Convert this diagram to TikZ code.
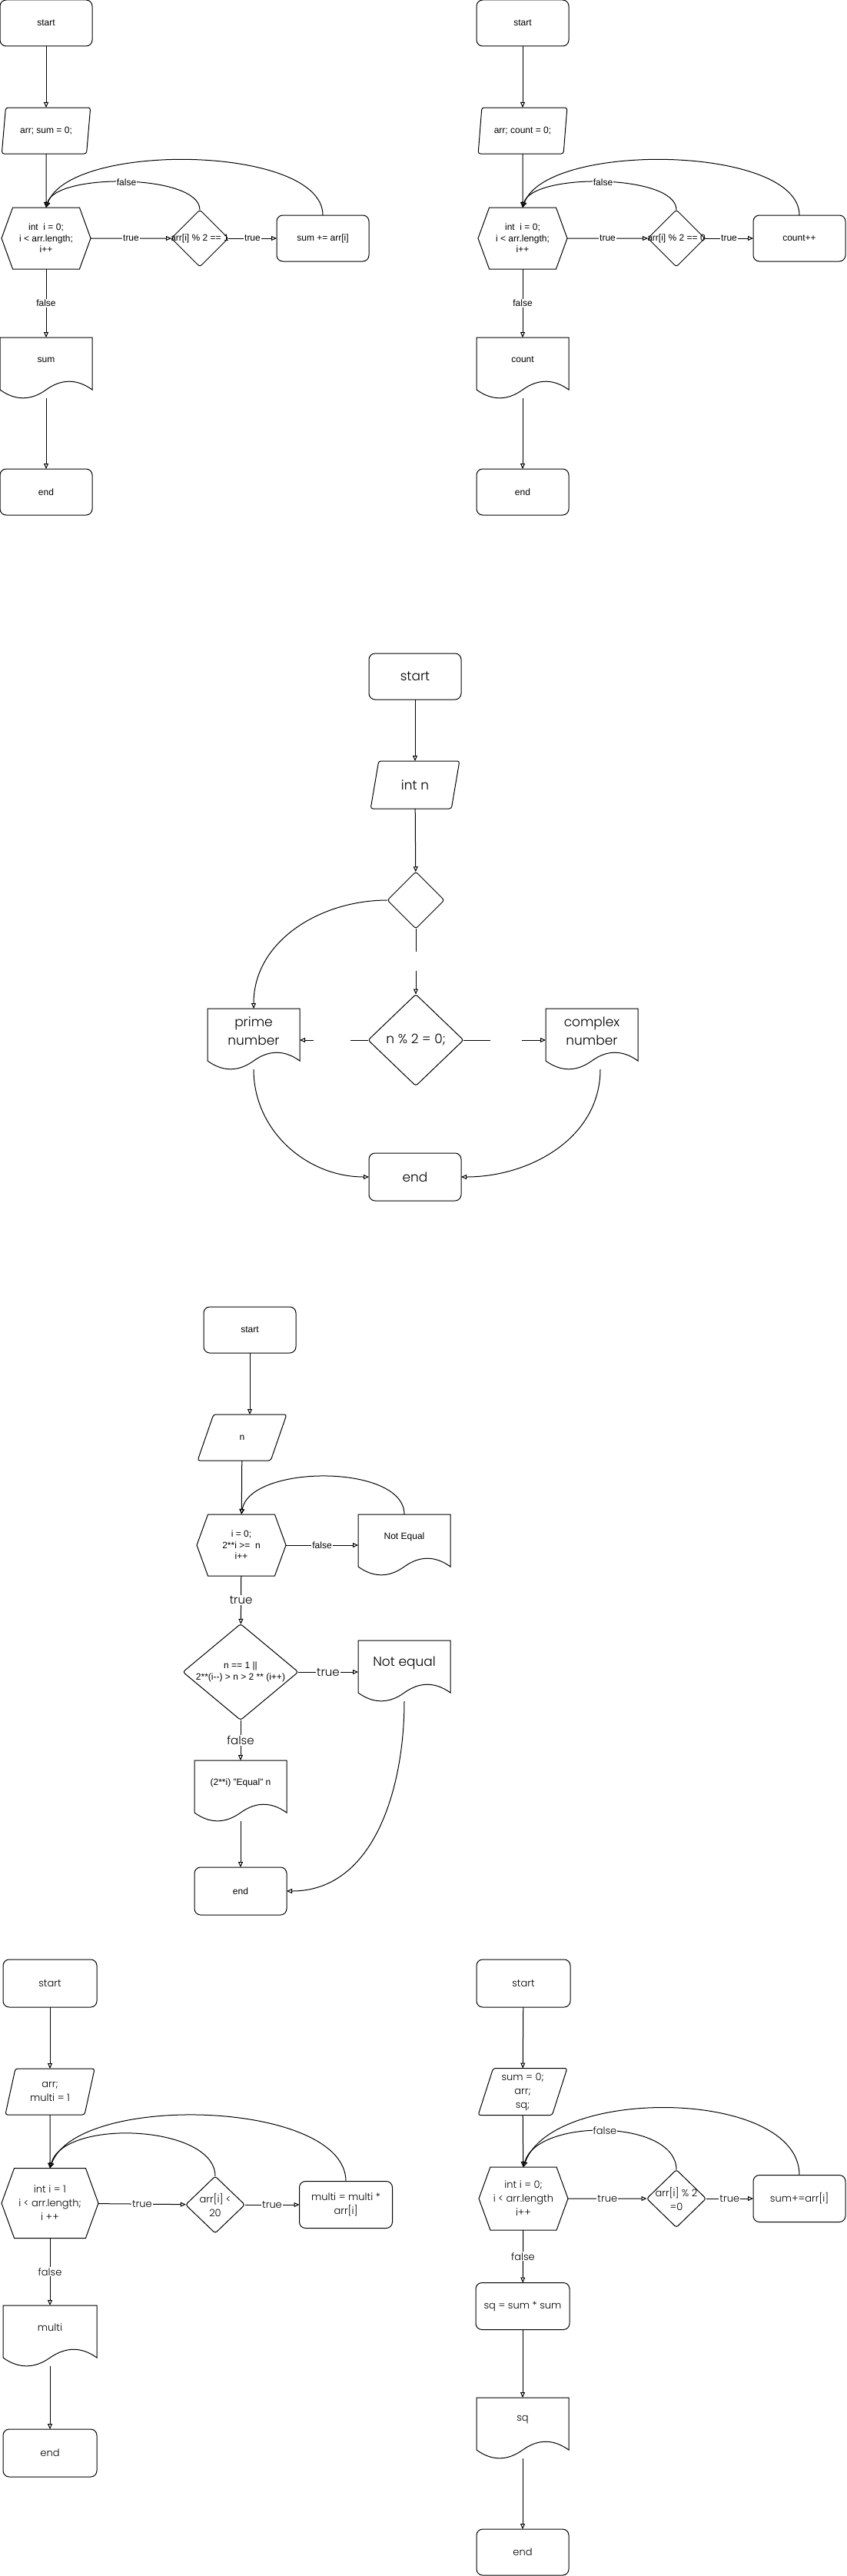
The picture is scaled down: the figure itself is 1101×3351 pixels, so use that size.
\documentclass[tikz,border=0pt]{standalone}
\usepackage{fontspec}
\setmainfont{Liberation Sans}
\newfontfamily\handfont{Poppins Light}
\usetikzlibrary{shapes.geometric,shapes.symbols,arrows.meta}

\newcommand{\docshape}[1]{%
  \draw (#1.north west) -- (#1.north east) -- ([yshift=-68pt]#1.north east)
    .. controls ([xshift=-20pt,yshift=-53.6pt]#1.north east) and ([xshift=-40pt,yshift=-53.6pt]#1.north east) .. ([yshift=-68pt]#1.north)
    .. controls ([xshift=-20pt,yshift=-82.4pt]#1.north) and ([xshift=20pt,yshift=-82.4pt]#1.north west) .. ([yshift=-68pt]#1.north west) -- cycle;
  \coordinate (#1 bot) at ([yshift=-79pt]#1.north);}

\begin{document}
\begin{tikzpicture}[x=1pt,y=1pt,line width=1pt,font=\fontsize{12}{14.5}\selectfont]
        \tikzstyle{every node}+=[inner sep=1pt,outer sep=0pt]
        \tikzstyle{startbox}=[draw,rounded corners=8pt,minimum width=120pt,minimum height=60pt,align=center]
        \tikzstyle{inbox}=[draw,trapezium,trapezium left angle=74,trapezium right angle=106,trapezium stretches=true,rounded corners=3pt,minimum width=116pt,minimum height=60pt,align=center]
        \tikzstyle{forbox}=[draw,signal,signal to=west and east,signal pointer angle=140,minimum width=116pt,minimum height=80pt,align=center]
        \tikzstyle{ifbox}=[draw,diamond,rounded corners=3pt,minimum width=74pt,minimum height=74pt,inner sep=0pt]
        \tikzstyle{docbox}=[minimum width=120pt,minimum height=58pt,align=center]
        \tikzstyle{conn}=[-{Triangle[open,length=7pt,width=6pt]}]
        \tikzstyle{tag}=[fill=white,inner sep=1pt]
        \tikzstyle{hand}=[font=\handfont\fontsize{15}{18}\selectfont]
        \useasboundingbox (0,0) rectangle (1101,-3351);

        % odd sum
        \node[startbox] (a-start) at (60,-30) {start};
        \node[inbox] (a-in) at (60,-170) {arr; sum = 0;};
        \node[forbox] (a-for) at (60,-310) {int\ \ i = 0;\\i < arr.length;\\i++};
        \node[ifbox,label=center:{arr[i] \% 2 == 1}] (a-if) at (260,-310) {};
        \node[startbox] (a-add) at (420,-310) {sum += arr[i]};
        \node[docbox] (a-out) at (60,-468) {sum};
        \docshape{a-out}
        \node[startbox] (a-end) at (60,-640) {end};
        \draw[conn] (a-start) -- (a-in);
        \draw[conn] (a-in) -- (a-for);
        \draw[conn] (a-for) -- node[tag] {true} (a-if);
        \draw[conn] (a-if) -- node[tag] {true} (a-add);
        \draw[conn] (a-if.north) to[out=90,in=75,looseness=0.6] node[tag] {false} (a-for.north);
        \draw[conn] (a-add.north) to[out=90,in=70,looseness=0.65] (a-for.north);
        \draw[conn] (a-for) -- node[tag] {false} (a-out);
        \draw[conn] (a-out bot) -- (a-end);

        % even count
        \node[startbox] (b-start) at (680,-30) {start};
        \node[inbox] (b-in) at (680,-170) {arr; count = 0;};
        \node[forbox] (b-for) at (680,-310) {int\ \ i = 0;\\i < arr.length;\\i++};
        \node[ifbox,label=center:{arr[i] \% 2 == 0}] (b-if) at (880,-310) {};
        \node[startbox] (b-add) at (1040,-310) {count++};
        \node[docbox] (b-out) at (680,-468) {count};
        \docshape{b-out}
        \node[startbox] (b-end) at (680,-640) {end};
        \draw[conn] (b-start) -- (b-in);
        \draw[conn] (b-in) -- (b-for);
        \draw[conn] (b-for) -- node[tag] {true} (b-if);
        \draw[conn] (b-if) -- node[tag] {true} (b-add);
        \draw[conn] (b-if.north) to[out=90,in=75,looseness=0.6] node[tag] {false} (b-for.north);
        \draw[conn] (b-add.north) to[out=90,in=70,looseness=0.65] (b-for.north);
        \draw[conn] (b-for) -- node[tag] {false} (b-out);
        \draw[conn] (b-out bot) -- (b-end);

        % prime / complex
        \begin{scope}[font=\handfont\fontsize{17}{24}\selectfont]
        \node[startbox] (c-start) at (540,-880) {start};
        \node[inbox,minimum height=62pt] (c-in) at (540,-1021) {int n};
        \node[ifbox] (c-test) at (541,-1171) {};
        \node[ifbox,minimum width=124pt,minimum height=119pt] (c-if) at (541,-1353) {n \% 2 = 0;};
        \node[docbox] (c-prime) at (330,-1341) {prime\\number};
        \docshape{c-prime}
        \node[docbox] (c-comp) at (770,-1341) {complex\\number};
        \docshape{c-comp}
        \node[startbox,minimum height=62pt] (c-end) at (540,-1531) {end};
        \draw[conn] (c-start) -- (c-in);
        \draw[conn] (c-in) -- (c-test);
        \draw[conn,dash pattern=on 30pt off 25pt on 60pt] (c-test) -- (c-if);
        \draw[conn,dash pattern=on 23pt off 48pt on 40pt] (c-if.west) -- (c-if.west -| c-prime.east);
        \draw[conn,dash pattern=on 35pt off 41pt on 40pt] (c-if.east) -- (c-if.east -| c-comp.west);
        \draw[conn] (c-test.west) to[out=180,in=90] (c-prime.north);
        \draw[conn] (c-prime bot) to[out=-90,in=180] (c-end.west);
        \draw[conn] ([xshift=11pt]c-comp bot) to[out=-90,in=0] (c-end.east);
        \end{scope}

        % power of two
        \node[startbox] (d-start) at (325,-1730) {start};
        \node[inbox] (d-in) at (315,-1870) {n};
        \node[forbox] (d-for) at (314,-2010) {i = 0;\\2**i >=\ \ n\\i++};
        \node[docbox] (d-ne) at (526,-1999) {Not Equal};
        \docshape{d-ne}
        \node[ifbox,minimum width=150pt,minimum height=125pt,label={[align=center]center:{n == 1 ||\\2**(i-{}-) > n > 2 ** (i++)}}] (d-if) at (313,-2175) {};
        \node[docbox,font=\handfont\fontsize{17}{20}\selectfont] (d-ne2) at (526,-2163) {Not equal};
        \docshape{d-ne2}
        \node[docbox] (d-eq) at (313,-2319) {(2**i) "Equal" n};
        \docshape{d-eq}
        \node[startbox,minimum height=62pt] (d-end) at (313,-2460) {end};
        \draw[conn] (d-start) -- (d-start |- d-in.north);
        \draw[conn] (d-in) -- (d-for);
        \draw[conn] (d-for.east) -- node[tag] {false} (d-for.east -| d-ne.west);
        \draw[conn] (d-ne.north) to[out=90,in=80,looseness=0.8] (d-for.north);
        \draw[conn] (d-for) -- node[tag,hand] {true} (d-if);
        \draw[conn] (d-if.east) -- node[tag,hand] {true} (d-if.east -| d-ne2.west);
        \draw[conn] (d-if) -- node[tag,hand] {false} (d-eq);
        \draw[conn] (d-eq bot) -- (d-end);
        \draw[conn] (d-ne2 bot) to[out=-90,in=0] (d-end.east);

        \begin{scope}[font=\handfont\fontsize{13}{18}\selectfont]
        % product
        \node[startbox,minimum width=122pt,minimum height=62pt] (e-start) at (65,-2580) {start};
        \node[inbox,minimum width=117pt] (e-in) at (65,-2721) {arr;\\multi = 1};
        \node[forbox,minimum width=126pt,minimum height=91pt] (e-for) at (65,-2866) {int i = 1\\i < arr.length;\\i ++};
        \node[ifbox,minimum width=77pt,label={[align=center]center:{arr[i] <\\20}}] (e-if) at (280,-2868) {};
        \node[startbox,minimum width=121pt,minimum height=61pt] (e-mul) at (450,-2868) {multi = multi *\\arr[i]};
        \node[docbox,minimum width=122pt] (e-out) at (65,-3028) {multi};
        \docshape{e-out}
        \node[startbox,minimum width=122pt,minimum height=62pt] (e-end) at (65,-3191) {end};
        \draw[conn] (e-start) -- (e-in);
        \draw[conn] (e-in) -- (e-for);
        \draw[conn] (e-for) -- node[tag] {true} (e-if);
        \draw[conn] (e-if) -- node[tag] {true} (e-mul);
        \draw[conn] (e-if.north) to[out=90,in=75,looseness=0.8] (e-for.north);
        \draw[conn] (e-mul.north) to[out=90,in=70,looseness=0.7] (e-for.north);
        \draw[conn] (e-for) -- node[tag] {false} (e-out);
        \draw[conn] (e-out bot) -- (e-end);

        % square of even sum
        \node[startbox,minimum width=122pt,minimum height=62pt] (f-start) at (681,-2580) {start};
        \node[inbox,minimum height=61pt] (f-in) at (680,-2721) {sum = 0;\\arr;\\sq;};
        \node[forbox,minimum width=116pt,minimum height=82pt] (f-for) at (681,-2860) {int i = 0;\\i < arr.length\\i++};
        \node[ifbox,minimum width=77pt,minimum height=75pt,label={[align=center]center:{arr[i] \% 2\\=0}}] (f-if) at (880,-2860) {};
        \node[startbox,minimum height=61pt] (f-add) at (1040,-2860) {sum+=arr[i]};
        \node[startbox,minimum width=122pt,minimum height=61pt] (f-sq) at (680,-3000) {sq = sum * sum};
        \node[docbox] (f-out) at (680,-3148) {sq};
        \docshape{f-out}
        \node[startbox] (f-end) at (680,-3320) {end};
        \draw[conn] (f-start) -- (f-in);
        \draw[conn] (f-in) -- (f-for);
        \draw[conn] (f-for) -- node[tag] {true} (f-if);
        \draw[conn] (f-if) -- node[tag] {true} (f-add);
        \draw[conn] (f-if.north) to[out=90,in=75,looseness=0.85] node[tag] {false} (f-for.north);
        \draw[conn] (f-add.north) to[out=90,in=70,looseness=0.8] (f-for.north);
        \draw[conn] (f-for) -- node[tag] {false} (f-sq);
        \draw[conn] (f-sq) -- (f-out);
        \draw[conn] (f-out bot) -- (f-end);
        \end{scope}
    \end{tikzpicture}
\end{document}
